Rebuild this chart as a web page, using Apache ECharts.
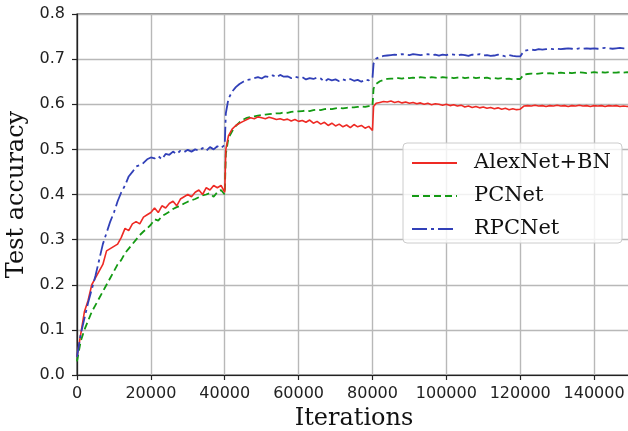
<!DOCTYPE html>
<html>
<head>
<meta charset="utf-8">
<script src="https://cdn.jsdelivr.net/npm/echarts@6/dist/echarts.min.js"></script>
<style>
  html, body { margin: 0; padding: 0; background: #fff; }
  #chart { width: 628px; height: 431px; }
</style>
</head>
<body>
<div id="chart"></div>
<script>
// Training iterations at which test accuracy was recorded
const iterations = [
  0, 1000, 2000, 3000, 4000, 5000, 6000, 7000, 8000, 9000,
  10000, 11000, 12000, 13000, 14000, 15000, 16000, 17000, 18000, 19000,
  20000, 21000, 22000, 23000, 24000, 25000, 26000, 27000, 28000, 29000,
  30000, 31000, 32000, 33000, 34000, 35000, 36000, 37000, 38000, 39000,
  40000, 40300, 41000, 42000, 43000, 44000, 45000, 46000, 47000, 48000, 49000,
  50000, 51000, 52000, 53000, 54000, 55000, 56000, 57000, 58000, 59000,
  60000, 61000, 62000, 63000, 64000, 65000, 66000, 67000, 68000, 69000,
  70000, 71000, 72000, 73000, 74000, 75000, 76000, 77000, 78000, 79000,
  80000, 80300, 81000, 82000, 83000, 84000, 85000, 86000, 87000, 88000, 89000,
  90000, 91000, 92000, 93000, 94000, 95000, 96000, 97000, 98000, 99000,
  100000, 101000, 102000, 103000, 104000, 105000, 106000, 107000, 108000, 109000,
  110000, 111000, 112000, 113000, 114000, 115000, 116000, 117000, 118000, 119000,
  120000, 121000, 122000, 123000, 124000, 125000, 126000, 127000, 128000, 129000,
  130000, 131000, 132000, 133000, 134000, 135000, 136000, 137000, 138000, 139000,
  140000, 141000, 142000, 143000, 144000, 145000, 146000, 147000, 148000, 149000,
  150000
];

const alexNetBN = [
  0.040, 0.090, 0.140, 0.165, 0.200, 0.215, 0.230, 0.245, 0.275, 0.280,
  0.285, 0.290, 0.305, 0.325, 0.320, 0.335, 0.340, 0.335, 0.350, 0.355,
  0.360, 0.370, 0.360, 0.375, 0.370, 0.380, 0.385, 0.375, 0.390, 0.395,
  0.400, 0.395, 0.405, 0.410, 0.400, 0.415, 0.410, 0.420, 0.415, 0.420,
  0.405, 0.500, 0.530, 0.545, 0.553, 0.558, 0.562, 0.566, 0.570, 0.568, 0.572,
  0.570, 0.568, 0.571, 0.569, 0.566, 0.568, 0.565, 0.567, 0.563, 0.566,
  0.562, 0.564, 0.560, 0.565, 0.558, 0.562, 0.556, 0.560, 0.553, 0.558,
  0.552, 0.556, 0.550, 0.554, 0.548, 0.555, 0.550, 0.553, 0.547, 0.551,
  0.542, 0.595, 0.602, 0.604, 0.606, 0.605, 0.607, 0.604, 0.606, 0.603, 0.605,
  0.602, 0.604, 0.601, 0.603, 0.600, 0.602, 0.599, 0.601, 0.600, 0.598,
  0.600, 0.597, 0.599, 0.596, 0.598, 0.594, 0.596, 0.593, 0.595, 0.592,
  0.594, 0.591, 0.593, 0.590, 0.592, 0.589, 0.591, 0.588, 0.590, 0.588,
  0.589, 0.596, 0.597, 0.596, 0.598, 0.596, 0.597, 0.595, 0.597, 0.596,
  0.598, 0.596, 0.597, 0.595, 0.597, 0.596, 0.598, 0.596, 0.597, 0.595,
  0.597, 0.596, 0.597, 0.595, 0.597, 0.596, 0.597, 0.595, 0.596, 0.595,
  0.596
];

const pcNet = [
  0.030, 0.075, 0.100, 0.120, 0.140, 0.155, 0.170, 0.185, 0.200, 0.215,
  0.230, 0.245, 0.255, 0.270, 0.280, 0.290, 0.300, 0.310, 0.318, 0.325,
  0.333, 0.345, 0.342, 0.352, 0.357, 0.362, 0.368, 0.372, 0.375, 0.380,
  0.384, 0.387, 0.390, 0.394, 0.398, 0.400, 0.403, 0.395, 0.405, 0.410,
  0.400, 0.490, 0.525, 0.540, 0.552, 0.560, 0.566, 0.570, 0.572, 0.573, 0.575,
  0.576, 0.577, 0.578, 0.579, 0.580, 0.580, 0.582, 0.581, 0.583, 0.584,
  0.584, 0.585, 0.586, 0.585, 0.587, 0.588, 0.587, 0.589, 0.590, 0.589,
  0.591, 0.592, 0.591, 0.592, 0.593, 0.593, 0.594, 0.595, 0.594, 0.596,
  0.596, 0.635, 0.645, 0.651, 0.654, 0.656, 0.657, 0.657, 0.658, 0.657, 0.659,
  0.658, 0.659, 0.658, 0.660, 0.659, 0.658, 0.660, 0.659, 0.658, 0.660,
  0.659, 0.660, 0.658, 0.659, 0.660, 0.658, 0.659, 0.660, 0.658, 0.659,
  0.658, 0.659, 0.657, 0.658, 0.657, 0.658, 0.656, 0.657, 0.655, 0.656,
  0.656, 0.666, 0.667, 0.668, 0.667, 0.668, 0.669, 0.668, 0.669, 0.668,
  0.669, 0.670, 0.669, 0.670, 0.669, 0.670, 0.671, 0.670, 0.669, 0.670,
  0.671, 0.670, 0.671, 0.670, 0.671, 0.670, 0.670, 0.671, 0.670, 0.671,
  0.670
];

const rpcNet = [
  0.040, 0.090, 0.125, 0.160, 0.190, 0.220, 0.255, 0.290, 0.315, 0.340,
  0.360, 0.385, 0.405, 0.420, 0.440, 0.450, 0.462, 0.465, 0.470, 0.478,
  0.482, 0.480, 0.485, 0.478, 0.490, 0.488, 0.495, 0.490, 0.497, 0.494,
  0.499, 0.495, 0.500, 0.497, 0.503, 0.497, 0.505, 0.500, 0.507, 0.503,
  0.510, 0.580, 0.612, 0.628, 0.638, 0.645, 0.650, 0.654, 0.655, 0.658, 0.660,
  0.657, 0.662, 0.660, 0.664, 0.660, 0.665, 0.661, 0.662, 0.658, 0.661,
  0.659, 0.660, 0.655, 0.658, 0.656, 0.659, 0.657, 0.650, 0.656, 0.653,
  0.655, 0.651, 0.655, 0.652, 0.656, 0.652, 0.654, 0.650, 0.655, 0.653,
  0.658, 0.690, 0.701, 0.705, 0.707, 0.708, 0.709, 0.710, 0.709, 0.711, 0.710,
  0.709, 0.711, 0.710, 0.709, 0.710, 0.711, 0.709, 0.710, 0.708, 0.710,
  0.709, 0.711, 0.710, 0.708, 0.710, 0.709, 0.707, 0.710, 0.709, 0.711,
  0.708, 0.709, 0.707, 0.708, 0.710, 0.708, 0.706, 0.709, 0.707, 0.706,
  0.706, 0.718, 0.720, 0.721, 0.720, 0.722, 0.721, 0.722, 0.723, 0.722,
  0.723, 0.722, 0.723, 0.724, 0.723, 0.722, 0.724, 0.723, 0.724, 0.723,
  0.724, 0.723, 0.724, 0.725, 0.724, 0.723, 0.724, 0.725, 0.724, 0.724,
  0.724
];

const seriesNames = ['AlexNet+BN', 'PCNet', 'RPCNet'];
const yTicks = { min: 0, max: 0.8, step: 0.1 };
const xTicks = { min: 0, max: 150000, step: 20000 };

const pairs = (ys) => iterations.map((x, i) => [x, ys[i]]);

const chart = echarts.init(document.getElementById('chart'), null, { renderer: 'canvas' });

const tickFont = { fontFamily: 'DejaVu Sans', fontSize: 16, color: '#222' };
const serif = 'DejaVu Serif';

chart.setOption({
  animation: false,
  backgroundColor: '#fff',
  grid: {
    left: 77, right: -3, top: 14, bottom: 56,
    outerBoundsMode: 'none',
    containLabel: false,
    show: true, borderColor: '#222', borderWidth: 1.2, backgroundColor: 'transparent'
  },
  xAxis: {
    type: 'value',
    min: xTicks.min, max: xTicks.max, interval: xTicks.step,
    name: 'Iterations',
    nameLocation: 'middle',
    nameGap: 32,
    nameTextStyle: { fontFamily: serif, fontSize: 24, color: '#111' },
    axisLine: { show: true, onZero: false, lineStyle: { color: '#222', width: 1.2 } },
    axisTick: { show: true, inside: false, length: 5, lineStyle: { color: '#222', width: 1.2 } },
    axisLabel: { ...tickFont, margin: 11, showMaxLabel: false, formatter: (v) => String(v) },
    splitLine: { show: true, lineStyle: { color: '#b8b8b8', width: 1.4 } }
  },
  yAxis: {
    type: 'value',
    min: yTicks.min, max: yTicks.max, interval: yTicks.step,
    name: 'Test accuracy',
    nameLocation: 'middle',
    nameGap: 48,
    nameTextStyle: { fontFamily: serif, fontSize: 24, color: '#111' },
    axisLine: { show: true, lineStyle: { color: '#222', width: 1.2 } },
    axisTick: { show: true, inside: false, length: 5, lineStyle: { color: '#222', width: 1.2 } },
    axisLabel: { ...tickFont, margin: 12, formatter: (v) => v.toFixed(1) },
    splitLine: { show: true, lineStyle: { color: '#b8b8b8', width: 1.4 } }
  },
  legend: {
    show: true,
    orient: 'vertical',
    left: 403, top: 143,
    padding: [9, 2, 3, 8],
    itemWidth: 45, itemHeight: 14, itemGap: 11,
    backgroundColor: 'rgba(255,255,255,0.8)',
    borderColor: '#cccccc', borderWidth: 1, borderRadius: 4,
    itemStyle: { opacity: 0 },
    textStyle: {
      fontFamily: serif, fontSize: 21, color: '#111', lineHeight: 22,
      width: 146, padding: [0, 0, 0, 12], overflow: 'none'
    },
    data: seriesNames
  },
  series: [
    {
      name: seriesNames[0], type: 'line', data: pairs(alexNetBN),
      showSymbol: false, symbol: 'none', z: 3,
      lineStyle: { color: '#ee2a24', width: 1.6, type: 'solid' },
      itemStyle: { color: '#ee2a24' }
    },
    {
      name: seriesNames[1], type: 'line', data: pairs(pcNet),
      showSymbol: false, symbol: 'none', z: 2,
      lineStyle: { color: '#139a13', width: 1.8, type: [7, 4] },
      itemStyle: { color: '#139a13' }
    },
    {
      name: seriesNames[2], type: 'line', data: pairs(rpcNet),
      showSymbol: false, symbol: 'none', z: 4,
      lineStyle: { color: '#3140b8', width: 1.8, type: [15, 4, 3, 4] },
      itemStyle: { color: '#3140b8' }
    }
  ]
});
</script>
</body>
</html>
